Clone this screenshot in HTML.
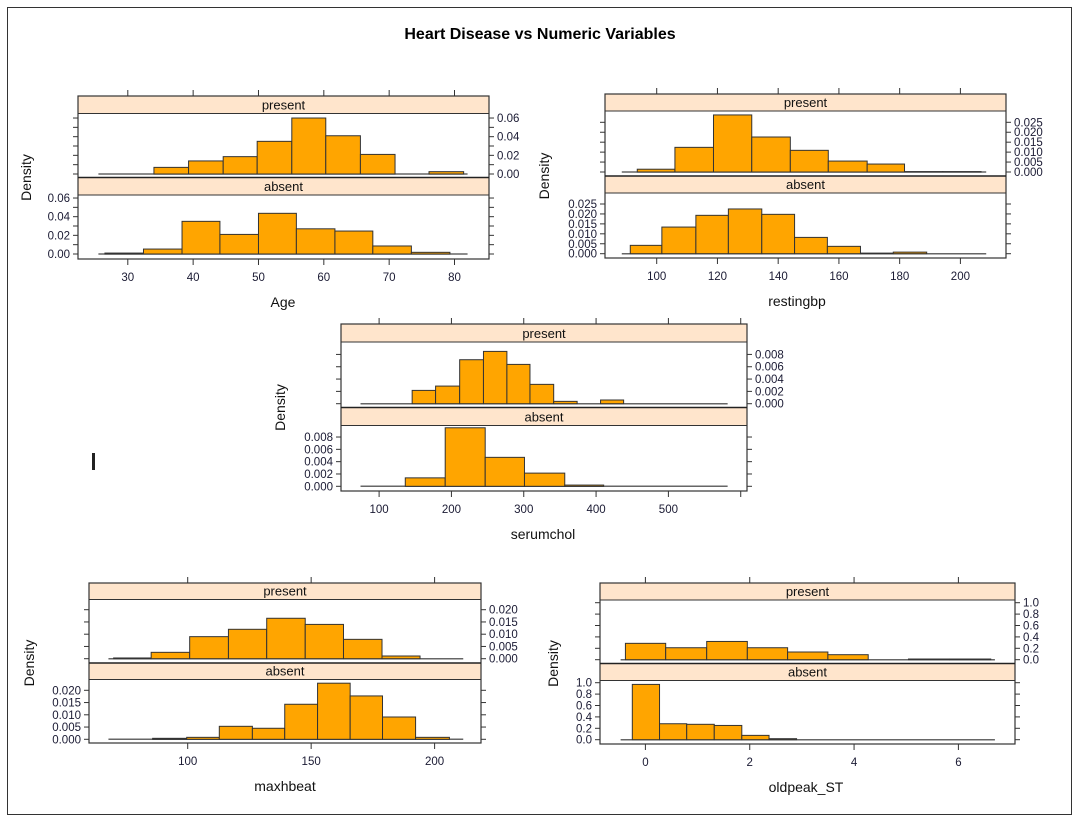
<!DOCTYPE html>
<html><head><meta charset="utf-8"><style>
body{margin:0;background:#fff;}
svg{display:block;font-family:"Liberation Sans",sans-serif;}
</style></head><body>
<svg id="chart" width="1079" height="821" xmlns="http://www.w3.org/2000/svg">
<rect x="7.5" y="7.5" width="1064" height="807" fill="none" stroke="#333"/>
<text x="540" y="39" text-anchor="middle" font-size="16" font-weight="bold">Heart Disease vs Numeric Variables</text>
<rect x="92" y="453" width="3" height="17" fill="#222"/>
</svg>
<script>
// Age
const ageBreaksPresent=[34.0,39.3,44.6,49.8,55.1,60.3,65.6,70.9,76.1,81.4];
const agePresent=[0.0071,0.014,0.0186,0.035,0.060,0.041,0.021,0,0.0025];
const ageBreaksAbsent=[26.5,32.4,38.3,44.1,50.0,55.8,61.7,67.5,73.4,79.3];
const ageAbsent=[0.001,0.0053,0.035,0.021,0.0436,0.027,0.0246,0.0086,0.0018];
const ageRange=[25.5,82];
const ageXTicks=[30,40,50,60,70,80];
const ageYTicks=[0,0.01,0.02,0.03,0.04,0.05,0.06];
const ageYLabels=[0,0.02,0.04,0.06];
// restingbp
const bpBreaksPresent=[93.6,106.0,118.7,131.3,144.0,156.5,169.3,181.6,194.2,206.8];
const bpPresent=[0.0014,0.0124,0.0287,0.0176,0.0109,0.0055,0.004,0.0002,0.0002];
const bpBreaksAbsent=[91.3,101.7,112.9,123.6,134.6,145.4,156.2,167.1,177.9,188.9];
const bpAbsent=[0.0042,0.0134,0.0193,0.0225,0.0198,0.0082,0.0037,0.0003,0.0008];
const bpRange=[88.5,208.5];
const bpXTicks=[100,120,140,160,180,200];
const bpYTicks=[0,0.005,0.01,0.015,0.02,0.025];
const bpYLabels=[0,0.005,0.01,0.015,0.02,0.025];
// serumchol
const chBreaksPresent=[145.7,178.1,211.4,244.3,276.7,308.6,341.4,373.8,406.2,438.1];
const chPresent=[0.00216,0.00286,0.00714,0.00849,0.00638,0.00314,0.00038,0,0.0006];
const chBreaksAbsent=[136.2,191.4,246.7,301,356.7,410.5];
const chAbsent=[0.00137,0.0095,0.0047,0.00214,0.0002];
const chRange=[74.3,581.9];
const chXTicks=[100,200,300,400,500,600];
const chXLabels=[100,200,300,400,500];
const chYTicks=[0,0.002,0.004,0.006,0.008];
const chYLabels=[0,0.002,0.004,0.006,0.008];
// maxhbeat
const hbBreaksPresent=[70.0,85.2,100.8,116.5,132,147.6,163.1,178.7,194.1];
const hbPresent=[0.0003,0.0026,0.009,0.012,0.0165,0.014,0.0079,0.0011];
const hbBreaksAbsent=[85.8,99.6,112.8,126.2,139.3,152.6,165.8,178.9,192.3,206];
const hbAbsent=[0.0004,0.0008,0.0053,0.0045,0.0143,0.0229,0.0177,0.0091,0.0008];
const hbRange=[67.9,211.6];
const hbXTicks=[100,150,200];
const hbYTicks=[0,0.005,0.01,0.015,0.02];
const hbYLabels=[0,0.005,0.01,0.015,0.02];
// oldpeak
const opBreaksPresent=[-0.383,0.389,1.175,1.954,2.726,3.498,4.271,5.043,5.83,6.62];
const opPresent=[0.287,0.21,0.32,0.21,0.135,0.088,0,0.012,0.012];
const opBreaksAbsent=[-0.251,0.271,0.792,1.32,1.848,2.37,2.898];
const opAbsent=[0.97,0.28,0.27,0.25,0.076,0.018];
const opRange=[-0.475,6.7];
const opXTicks=[0,2,4,6];
const opYTicks=[0,0.2,0.4,0.6,0.8,1.0];
const opYLabels=[0,0.2,0.4,0.6,0.8,1.0];

const NS="http://www.w3.org/2000/svg";
const svg=document.getElementById('chart');
function el(tag,attrs,parent){const e=document.createElementNS(NS,tag);for(const k in attrs)e.setAttribute(k,attrs[k]);(parent||svg).appendChild(e);return e;}

function panel(cfg){
  const g=el('g',{});
  
  
  const xs=v=>cfg.x0+(v-cfg.v0)*(cfg.x1-cfg.x0)/(cfg.v1-cfg.v0);
  const S=cfg.strip, ph=(cfg.B-cfg.T-2*S)/2;
  const rows=[
    {lab:'present',stripTop:cfg.T,pTop:cfg.T+S,pBot:cfg.T+S+ph,zero:cfg.zp,br:cfg.bp,d:cfg.dp,side:'right'},
    {lab:'absent',stripTop:cfg.T+S+ph,pTop:cfg.T+2*S+ph,pBot:cfg.B,zero:cfg.za,br:cfg.ba,d:cfg.da,side:'left'}
  ];
  rows.forEach(r=>{
    const ys=v=>r.zero-v*cfg.scale;
    const st=el('rect',{x:cfg.L,y:r.stripTop,width:cfg.R-cfg.L,height:S,fill:'#ffe5cc',stroke:'#333','stroke-width':1},g);
    
    
    const tx=el('text',{x:(cfg.L+cfg.R)/2,y:r.stripTop+S-4,'text-anchor':'middle','font-size':13,fill:'#111'},g);
    tx.textContent=r.lab;
    
    
    const bl=el('line',{x1:xs(cfg.range[0]),x2:xs(cfg.range[1]),y1:r.zero,y2:r.zero,stroke:'#666','stroke-width':1.5},g);
    
    
    for(let i=0;i<r.d.length;i++){
      if(r.d[i]<=0)continue;
      const x=xs(r.br[i]),w=xs(r.br[i+1])-x,y=ys(r.d[i]);
      const b=el('rect',{x:x,y:y,width:w,height:r.zero-y,fill:'#ffa500',stroke:'#333','stroke-width':1},g);
      
      
    }
    cfg.yTicks.forEach(v=>{
      const y=ys(v);
      [[cfg.L,cfg.L-5],[cfg.R,cfg.R+5]].forEach(p=>{
        const t=el('line',{x1:p[0],x2:p[1],y1:y,y2:y,stroke:'#333'},g);
        
        
      });
    });
    cfg.yLabels.forEach(v=>{
      const y=ys(v);
      const t=el('text',{x:r.side==='right'?cfg.R+8:cfg.L-8,y:y+4,'text-anchor':r.side==='right'?'start':'end','font-size':11.5,fill:'#1a1a33'},g);
      t.textContent=v.toFixed(cfg.dec);
      
      
    });
  });
  const box=el('rect',{x:cfg.L,y:cfg.T,width:cfg.R-cfg.L,height:cfg.B-cfg.T,fill:'none',stroke:'#333','stroke-width':1.2},g);
  
  
  el('line',{x1:cfg.L,x2:cfg.R,y1:cfg.T+S+ph,y2:cfg.T+S+ph,stroke:'#222','stroke-width':1.5},g);
  cfg.xTicks.forEach(v=>{
    const x=xs(v);
    const t1=el('line',{x1:x,x2:x,y1:cfg.T,y2:cfg.T-6,stroke:'#333'},g);
    
    
    const t2=el('line',{x1:x,x2:x,y1:cfg.B,y2:cfg.B+6,stroke:'#333'},g);
    
    
  });
  (cfg.xLabels||cfg.xTicks).forEach(v=>{
    const t=el('text',{x:xs(v),y:cfg.B+22,'text-anchor':'middle','font-size':11.5,fill:'#1a1a33'},g);
    t.textContent=String(v);
    
    
  });
  const xl=el('text',{x:cfg.xlx,y:cfg.B+48,'text-anchor':'middle','font-size':14,fill:'#111'},g);
  xl.textContent=cfg.xlab;
  
  
  const yl=el('text',{x:0,y:0,'text-anchor':'middle','font-size':14,fill:'#111',transform:'translate('+cfg.ylx+','+((cfg.T+cfg.B)/2)+') rotate(-90)'},g);
  yl.textContent='Density';
  
  
}

panel({name:'age',L:78,R:489,T:96,B:259,strip:17.5,x0:127.8,x1:454.5,v0:30,v1:80,zp:174,za:254,scale:933,
  bp:ageBreaksPresent,dp:agePresent,ba:ageBreaksAbsent,da:ageAbsent,range:ageRange,xTicks:ageXTicks,yTicks:ageYTicks,yLabels:ageYLabels,dec:2,xlab:'Age',xlx:283,ylx:31});
panel({name:'restingbp',L:605,R:1006,T:94,B:258,strip:17,x0:656.7,x1:960.4,v0:100,v1:200,zp:172,za:253.7,scale:1988,
  bp:bpBreaksPresent,dp:bpPresent,ba:bpBreaksAbsent,da:bpAbsent,range:bpRange,xTicks:bpXTicks,yTicks:bpYTicks,yLabels:bpYLabels,dec:3,xlab:'restingbp',xlx:797,ylx:549});
panel({name:'serumchol',L:341,R:747,T:324,B:491,strip:18,x0:379.1,x1:668.4,v0:100,v1:500,zp:403.7,za:486.3,scale:6160,
  bp:chBreaksPresent,dp:chPresent,ba:chBreaksAbsent,da:chAbsent,range:chRange,xTicks:chXTicks,xLabels:chXLabels,yTicks:chYTicks,yLabels:chYLabels,dec:3,xlab:'serumchol',xlx:543,ylx:285});
panel({name:'maxhbeat',L:89,R:481,T:583,B:743,strip:16.5,x0:187.7,x1:434.6,v0:100,v1:200,zp:658.7,za:739.3,scale:2450,
  bp:hbBreaksPresent,dp:hbPresent,ba:hbBreaksAbsent,da:hbAbsent,range:hbRange,xTicks:hbXTicks,yTicks:hbYTicks,yLabels:hbYLabels,dec:3,xlab:'maxhbeat',xlx:285,ylx:34});
panel({name:'oldpeak',L:600,R:1015,T:583,B:744,strip:17,x0:645.4,x1:958.4,v0:0,v1:6,zp:659.7,za:739.7,scale:57,
  bp:opBreaksPresent,dp:opPresent,ba:opBreaksAbsent,da:opAbsent,range:opRange,xTicks:opXTicks,yTicks:opYTicks,yLabels:opYLabels,dec:1,xlab:'oldpeak_ST',xlx:806,ylx:558});
</script>
</body></html>
